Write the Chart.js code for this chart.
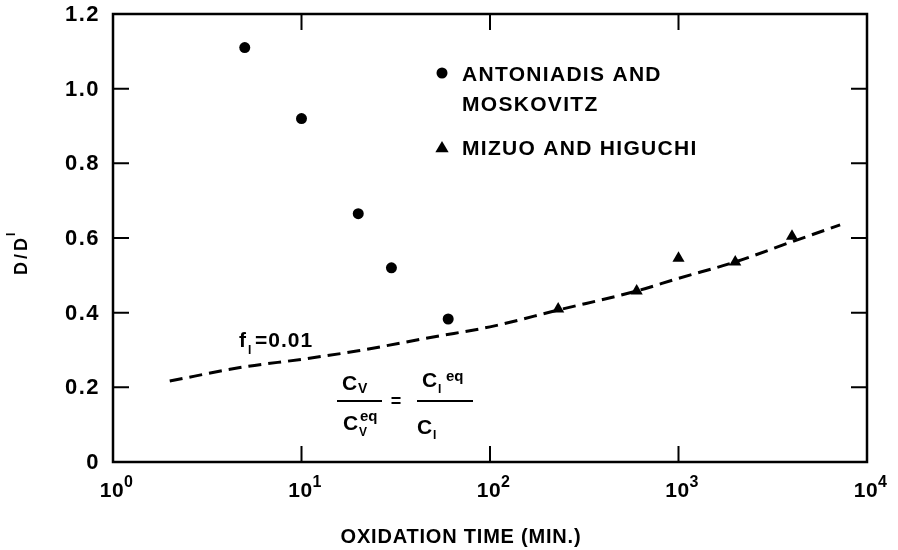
<!DOCTYPE html>
<html>
<head>
<meta charset="utf-8">
<script src="https://cdn.jsdelivr.net/npm/chart.js@4.4.0/dist/chart.umd.min.js"></script>
<style>
  body { margin: 0; background: #fff; }
</style>
</head>
<body>
<canvas id="chart" width="898" height="550"></canvas>
<script>
// values
const antoniadisTime = [5, 10, 20, 30, 60];
const antoniadisRatio = [1.11, 0.92, 0.665, 0.52, 0.383];

const mizuoTime = [230, 600, 1000, 2000, 4000];
const mizuoRatio = [0.41, 0.458, 0.546, 0.536, 0.605];

// dashed model curve, f_I = 0.01
const curveTime = [2, 5, 10, 20, 50, 100, 230, 600, 1000, 2000, 4000, 7200];
const curveRatio = [0.217, 0.255, 0.275, 0.298, 0.335, 0.362, 0.407, 0.458, 0.492, 0.536, 0.59, 0.635];

const xTicks = [1, 10, 100, 1000, 10000];
const xExponents = ['0', '1', '2', '3', '4'];
const yTicks = [0, 0.2, 0.4, 0.6, 0.8, 1.0, 1.2];
const yLabels = ['0', '0.2', '0.4', '0.6', '0.8', '1.0', '1.2'];

const legendLines = [['ANTONIADIS AND', 'MOSKOVITZ'], ['MIZUO AND HIGUCHI']];
const xTitle = 'OXIDATION TIME (MIN.)';

const FONT = '"Liberation Sans", Arial, sans-serif';

function toPoints(xs, ys) {
    return xs.map((v, i) => ({ x: v, y: ys[i] }));
}

// draws a string at x,y with a given size / alignment / spacing (bold face)
function text(ctx, str, x, y, size, align, spacing) {
    ctx.font = 'bold ' + size + 'px ' + FONT;
    ctx.letterSpacing = (spacing || 0) + 'px';
    ctx.textAlign = align || 'left';
    ctx.fillText(str, x, y);
    return ctx.measureText(str).width;
}

function triangle(ctx, cx, cy, r) {
    ctx.beginPath();
    ctx.moveTo(cx, cy - r);
    ctx.lineTo(cx + r * 0.95, cy + r * 0.6);
    ctx.lineTo(cx - r * 0.95, cy + r * 0.6);
    ctx.closePath();
    ctx.fill();
}

// frame, inward ticks, tick labels, titles, legend and annotations
const decorations = {
    id: 'decorations',
    afterDraw(chart) {
        const { ctx, chartArea: a, scales: { x, y } } = chart;
        ctx.save();
        ctx.strokeStyle = '#000';
        ctx.fillStyle = '#000';

        ctx.lineWidth = 2.5;
        ctx.strokeRect(a.left, a.top, a.right - a.left, a.bottom - a.top);

        ctx.lineWidth = 2;
        ctx.beginPath();
        xTicks.forEach(v => {
            const px = x.getPixelForValue(v);
            ctx.moveTo(px, a.bottom); ctx.lineTo(px, a.bottom - 16);
            ctx.moveTo(px, a.top); ctx.lineTo(px, a.top + 16);
        });
        yTicks.forEach(v => {
            const py = y.getPixelForValue(v);
            ctx.moveTo(a.left, py); ctx.lineTo(a.left + 16, py);
            ctx.moveTo(a.right, py); ctx.lineTo(a.right - 16, py);
        });
        ctx.stroke();

        // y tick labels
        ctx.textBaseline = 'middle';
        yTicks.forEach((v, i) => {
            text(ctx, yLabels[i], 100, y.getPixelForValue(v) + 1, 22, 'right', 1.5);
        });

        // x tick labels 10^n
        ctx.textBaseline = 'alphabetic';
        xTicks.forEach((v, i) => {
            const px = x.getPixelForValue(v);
            text(ctx, '10', px - 1, 497, 21, 'center', 0.5);
            text(ctx, xExponents[i], px + 11, 487, 16, 'left');
        });

        // x axis title
        text(ctx, xTitle, 461, 543, 20, 'center', 0.8);

        // y axis title D/D^I
        ctx.save();
        ctx.translate(27, 255);
        ctx.rotate(-Math.PI / 2);
        const w = text(ctx, 'D/D', 0, 0, 18, 'center', 3);
        text(ctx, 'I', w / 2 - 1, -12, 12, 'left');
        ctx.restore();

        // legend
        ctx.beginPath();
        ctx.arc(442, 73, 5.5, 0, Math.PI * 2);
        ctx.fill();
        triangle(ctx, 442, 148, 7);
        text(ctx, legendLines[0][0], 462, 81, 21, 'left', 1.3);
        text(ctx, legendLines[0][1], 462, 111, 21, 'left', 1.3);
        text(ctx, legendLines[1][0], 462, 155, 21, 'left', 1.3);

        // f_I = 0.01 label
        text(ctx, 'f', 239, 347, 21, 'left');
        text(ctx, 'I', 248, 354, 12, 'left');
        text(ctx, '=0.01', 255, 347, 21, 'left', 1);

        // Cv / Cv^eq = CI^eq / CI
        text(ctx, 'C', 342, 390, 21, 'left');
        text(ctx, 'V', 358, 393, 14, 'left');
        ctx.fillRect(337, 400, 45, 2);
        text(ctx, 'C', 343, 430, 21, 'left');
        text(ctx, 'eq', 360, 421, 15, 'left');
        text(ctx, 'V', 359, 436, 12, 'left');
        text(ctx, '=', 396, 407, 18, 'center');
        text(ctx, 'C', 422, 387, 21, 'left');
        text(ctx, 'I', 438, 393, 12, 'left');
        text(ctx, 'eq', 446, 381, 15, 'left');
        ctx.fillRect(417, 400, 56, 2);
        text(ctx, 'C', 417, 434, 21, 'left');
        text(ctx, 'I', 433, 439, 12, 'left');

        ctx.restore();
    }
};

new Chart(document.getElementById('chart'), {
    type: 'scatter',
    data: {
        datasets: [
            {
                label: 'f_I = 0.01',
                data: toPoints(curveTime, curveRatio),
                showLine: true,
                borderColor: '#000',
                borderWidth: 3,
                borderDash: [13, 7],
                pointRadius: 0,
                cubicInterpolationMode: 'monotone',
                order: 2
            },
            {
                label: 'Antoniadis and Moskovitz',
                data: toPoints(antoniadisTime, antoniadisRatio),
                pointStyle: 'circle',
                pointRadius: 5.5,
                backgroundColor: '#000',
                borderWidth: 0,
                order: 1
            },
            {
                label: 'Mizuo and Higuchi',
                data: toPoints(mizuoTime, mizuoRatio),
                pointStyle: 'triangle',
                pointRadius: 7,
                backgroundColor: '#000',
                borderWidth: 0,
                order: 1
            }
        ]
    },
    options: {
        responsive: false,
        animation: false,
        layout: { padding: { top: 14, right: 31, left: 0, bottom: 0 } },
        plugins: { legend: { display: false }, tooltip: { enabled: false } },
        scales: {
            x: {
                type: 'logarithmic',
                min: 1,
                max: 10000,
                grid: { display: false, drawTicks: false },
                border: { display: false },
                ticks: { display: false },
                afterBuildTicks: s => { s.ticks = xTicks.map(v => ({ value: v })); },
                afterFit: s => { s.height = 88; }
            },
            y: {
                min: 0,
                max: 1.2,
                grid: { display: false, drawTicks: false },
                border: { display: false },
                ticks: { display: false },
                afterBuildTicks: s => { s.ticks = yTicks.map(v => ({ value: v })); },
                afterFit: s => { s.width = 113; }
            }
        }
    },
    plugins: [decorations]
});
</script>
</body>
</html>
